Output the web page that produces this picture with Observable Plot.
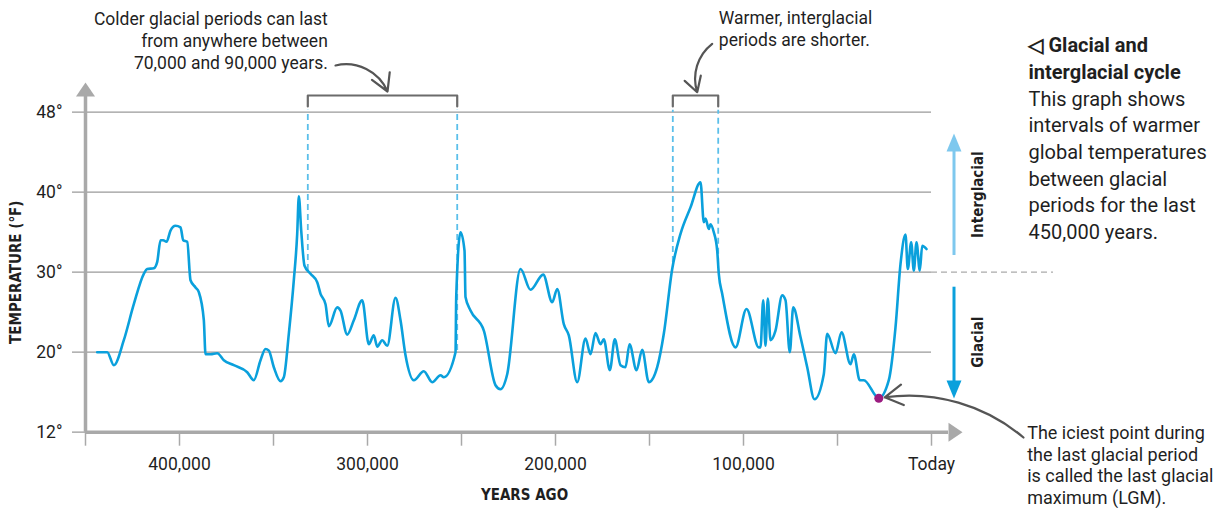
<!DOCTYPE html>
<html><head><meta charset="utf-8">
<script src="https://cdn.jsdelivr.net/npm/d3@7"></script>
<script src="https://cdn.jsdelivr.net/npm/@observablehq/plot@0.6"></script>
<style>body{margin:0;background:#fff}</style>
</head><body><div id="chart"></div>
<script>
// Years ago (x) and global temperature in °F (y)
const yearsAgo = [443770,438440,434930,429620,424300,418980,417170,413660,411850,410090,408660,406900,404780,402120,399460,398020,395890,394140,391480,389720,387060,386160,383500,379940,376420,371110,363980,360470,356900,354250,352490,349830,346270,344510,341850,339190,337390,336530,335260,333500,330310,326750,324990,322330,320580,316110,314350,310790,307280,302810,299300,296640,294830,292170,289510,285100,282440,279780,275360,270050,265580,261160,259410,253180,252810,250520,248400,247870,245210,238130,231910,229250,225690,218610,213290,206540,201750,199090,195580,192920,188450,184040,181380,178720,176060,174300,171110,168450,165420,162760,160630,156910,153880,150370,145900,142390,137920,133510,128190,122870,121110,120210,118450,117550,115800,113990,113140,111330,104250,98400,91860,90950,89520,88300,87070,85640,82980,79410,77660,75370,73560,69680,66110,62230,57290,55480,51060,47870,43080,41330,38140,36010,28030,22710,19150,16490,13830,12610,10800,9410,7980,6220,4950,2660];
const temperatureF = [20,20,18.7,21.5,26,29.8,30.4,30.5,31.3,34,34,33.8,35.2,35.8,35.6,34,33.8,29,28.1,27.5,24,19.8,19.8,19.9,19.2,18.7,18,17.2,19.2,20.4,20.2,18.5,17.1,17.5,22.3,29,34.8,39.5,35.2,30.8,29.8,28.75,27.3,26,23.25,25.6,25.2,22.2,24,26.5,21,22.1,20.7,21.5,20.8,26.8,24,19.7,17.2,18.1,17,17.7,17.5,20,26.9,35,32.7,26.9,25.2,22.7,16.7,16.3,17.8,30.4,27.8,29.7,26.25,27.9,23.5,22.1,17,21.7,19.8,22.4,21,21.6,18.2,21.6,18.7,18.5,21,18.2,20.3,17,18.5,22.3,30.4,34.8,38.1,41,36.25,36.7,35.4,36,35,32.7,29.8,27.3,20.6,25.4,20.6,20.6,26.5,20.8,26.7,21.5,22.7,27.1,26.5,20,25.6,21.9,18.5,15.3,17.8,22.3,19.9,22.5,18.8,19.8,17.2,17.2,15.4,17.2,23.1,31,34.7,30.4,33.75,30.2,33.75,30.2,33.3,32.9];

const xTicks = [450000,400000,350000,300000,250000,200000,150000,100000,50000,0];
const xTickLabels = {400000:"400,000",300000:"300,000",200000:"200,000",100000:"100,000",0:"Today"};
const yTicks = [12,20,30,40,48];

const glacialSpan = [331750, 252280];        // bracket over a glacial period
const glacialSpanBase = [30.2, 20.2];         // where dashed lines meet the curve
const interglacialSpan = [137600, 113450];    // bracket over an interglacial period
const interglacialSpanBase = [31.2, 31];
const lgmYear = 28030, lgmTemp = 15.4;

const noteGlacial = "Colder glacial periods can last\nfrom anywhere between\n70,000 and 90,000 years.";
const noteInterglacial = "Warmer, interglacial\nperiods are shorter.";
const noteLGM = "The iciest point during\nthe last glacial period\nis called the last glacial\nmaximum (LGM).";
const sideTitle = "◁ Glacial and\ninterglacial cycle";
const sideBody = "This graph shows\nintervals of warmer\nglobal temperatures\nbetween glacial\nperiods for the last\n450,000 years.";

const series = yearsAgo.map((x, i) => ({x, t: temperatureF[i]}));

function head(ratio) {
  return {draw(ctx, size) {
    const r = Math.sqrt(size / Math.PI);
    ctx.moveTo(0, -r); ctx.lineTo(r * ratio, r); ctx.lineTo(-r * ratio, r); ctx.closePath();
  }};
}

const bracketTop = 49.67, bracketLeg = 48.57, dashTop = 48.2;
const bracketLines = [];
[glacialSpan, interglacialSpan].forEach((s, k) => {
  bracketLines.push({k, x: s[0], t: bracketLeg}, {k, x: s[0], t: bracketTop}, {k, x: s[1], t: bracketTop}, {k, x: s[1], t: bracketLeg});
});
const dashes = [
  {x: glacialSpan[0], t: glacialSpanBase[0]}, {x: glacialSpan[1], t: glacialSpanBase[1]},
  {x: interglacialSpan[0], t: interglacialSpanBase[0]}, {x: interglacialSpan[1], t: interglacialSpanBase[1]}
];

const condensed = "'DejaVu Sans Condensed', 'Roboto Condensed', Roboto, sans-serif";
const axisGray = "#a9a9a9";
const blue = "#0aa0dc";
const ink = "#1f1f1f";

const chart = Plot.plot({
  width: 1226, height: 508,
  marginLeft: 85, marginRight: 278, marginTop: 96, marginBottom: 76.3,
  x: {type: "linear", domain: [450000, 0], range: [85, 931]},
  y: {type: "linear", domain: yTicks, range: [431.7, 351.7, 271.7, 191.7, 111.7]},
  style: {fontFamily: "Roboto, 'Noto Sans', sans-serif", fontSize: "17px", color: ink, background: "#fff", overflow: "visible"},
  marks: [
    Plot.gridY(yTicks, {stroke: "#9a9a9a", strokeOpacity: 1, strokeWidth: 1.3, insetLeft: -13, insetRight: 17}),
    Plot.ruleY([30], {x1: 0, x2: -64890, stroke: "#aaa", strokeDasharray: "6,4", strokeWidth: 1.2}),
    Plot.ruleX(dashes, {x: "x", y1: "t", y2: dashTop, stroke: "#5bbfea", strokeWidth: 1.8, strokeDasharray: "6,4"}),
    Plot.line(bracketLines, {x: "x", y: "t", z: "k", stroke: "#6b6b6b", strokeWidth: 2.2, curve: "linear"}),
    Plot.axisY({ticks: yTicks, tickFormat: d => d + "°", tickSize: 0, tickPadding: 23, fontSize: 17.5, fill: ink}),
    Plot.axisX({ticks: xTicks, tickFormat: d => xTickLabels[d] ?? "", tickSize: 14, tickPadding: 11, stroke: axisGray, strokeWidth: 1.5, fontSize: 17.5, fill: ink}),
    Plot.ruleX([450000], {stroke: axisGray, strokeWidth: 3.5}),
    Plot.ruleY([12], {stroke: axisGray, strokeWidth: 3.5}),
    Plot.dot([{x: 450000, t: 50.27}], {x: "x", y: "t", r: 7, symbol: head(1.36), fill: axisGray, stroke: "none"}),
    Plot.dot([{x: -12770, t: 12}], {x: "x", y: "t", r: 7, symbol: head(1.36), rotate: 90, fill: axisGray, stroke: "none"}),
    Plot.line(series, {x: "x", y: "t", stroke: blue, strokeWidth: 2.6, curve: "monotone-x"}),
    Plot.dot([{x: lgmYear, t: lgmTemp}], {x: "x", y: "t", r: 4.5, fill: "#9b1b80", stroke: "none"}),
    // interglacial / glacial indicators
    Plot.ruleX([-11970], {y1: 32.09, y2: 44.97, stroke: "#7ec8ee", strokeWidth: 3}),
    Plot.dot([{x: -11970, t: 44.97}], {x: "x", y: "t", r: 9, symbol: head(0.83), fill: "#7ec8ee", stroke: "none"}),
    Plot.ruleX([-11970], {y1: 28.125, y2: 16.27, stroke: blue, strokeWidth: 3}),
    Plot.dot([{x: -11970, t: 16.27}], {x: "x", y: "t", r: 9, symbol: head(0.83), rotate: 180, fill: blue, stroke: "none"}),
    Plot.text(["Interglacial"], {x: -25000, y: 39.7, rotate: -90, fontFamily: condensed, fontWeight: "bold", fontSize: 15, fill: ink}),
    Plot.text(["Glacial"], {x: -25000, y: 21.25, rotate: -90, fontFamily: condensed, fontWeight: "bold", fontSize: 15, fill: ink}),
    // axis titles
    Plot.text(["TEMPERATURE (°F)"], {x: 486690, y: 30, rotate: -90, fontFamily: condensed, fontWeight: "bold", fontSize: 15, fill: ink}),
    Plot.text(["YEARS AGO"], {x: 216480, y: 5.67, fontFamily: condensed, fontWeight: "bold", fontSize: 15, fill: ink}),
    // annotations
    Plot.text([noteGlacial], {x: 321110, y: 55.27, textAnchor: "end", lineAnchor: "middle", lineHeight: 1.26, fontSize: 17.5, fill: ink}),
    Plot.arrow([{x1: 317010, y1: 52.67, x2: 289350, y2: 50.07}], {x1: "x1", y1: "y1", x2: "x2", y2: "y2", bend: 40, stroke: "#555", strokeWidth: 2.2, headLength: 14}),
    Plot.text([noteInterglacial], {x: 113130, y: 56.39, textAnchor: "start", lineAnchor: "middle", lineHeight: 1.26, fontSize: 17.5, fill: ink}),
    Plot.arrow([{x1: 116650, y1: 54.84, x2: 124620, y2: 50.0}], {x1: "x1", y1: "y1", x2: "x2", y2: "y2", bend: -35, stroke: "#555", strokeWidth: 2.2, headLength: 14}),
    Plot.text([noteLGM], {x: -50900, y: 8.75, textAnchor: "start", lineAnchor: "middle", lineHeight: 1.2, fontSize: 18, fill: ink}),
    Plot.arrow([{x1: -48930, y1: 11.47, x2: lgmYear, y2: lgmTemp}], {x1: "x1", y1: "y1", x2: "x2", y2: "y2", bend: -25, insetEnd: 6, stroke: "#555", strokeWidth: 2.2, headLength: 14}),
    Plot.text([sideTitle], {x: -51590, y: 53.5, textAnchor: "start", lineAnchor: "middle", lineHeight: 1.335, fontSize: 20, fontWeight: "bold", fill: ink}),
    Plot.text([sideBody], {x: -51590, y: 42.84, textAnchor: "start", lineAnchor: "middle", lineHeight: 1.335, fontSize: 20, fill: ink})
  ]
});
document.getElementById("chart").append(chart);
</script>
</body></html>
